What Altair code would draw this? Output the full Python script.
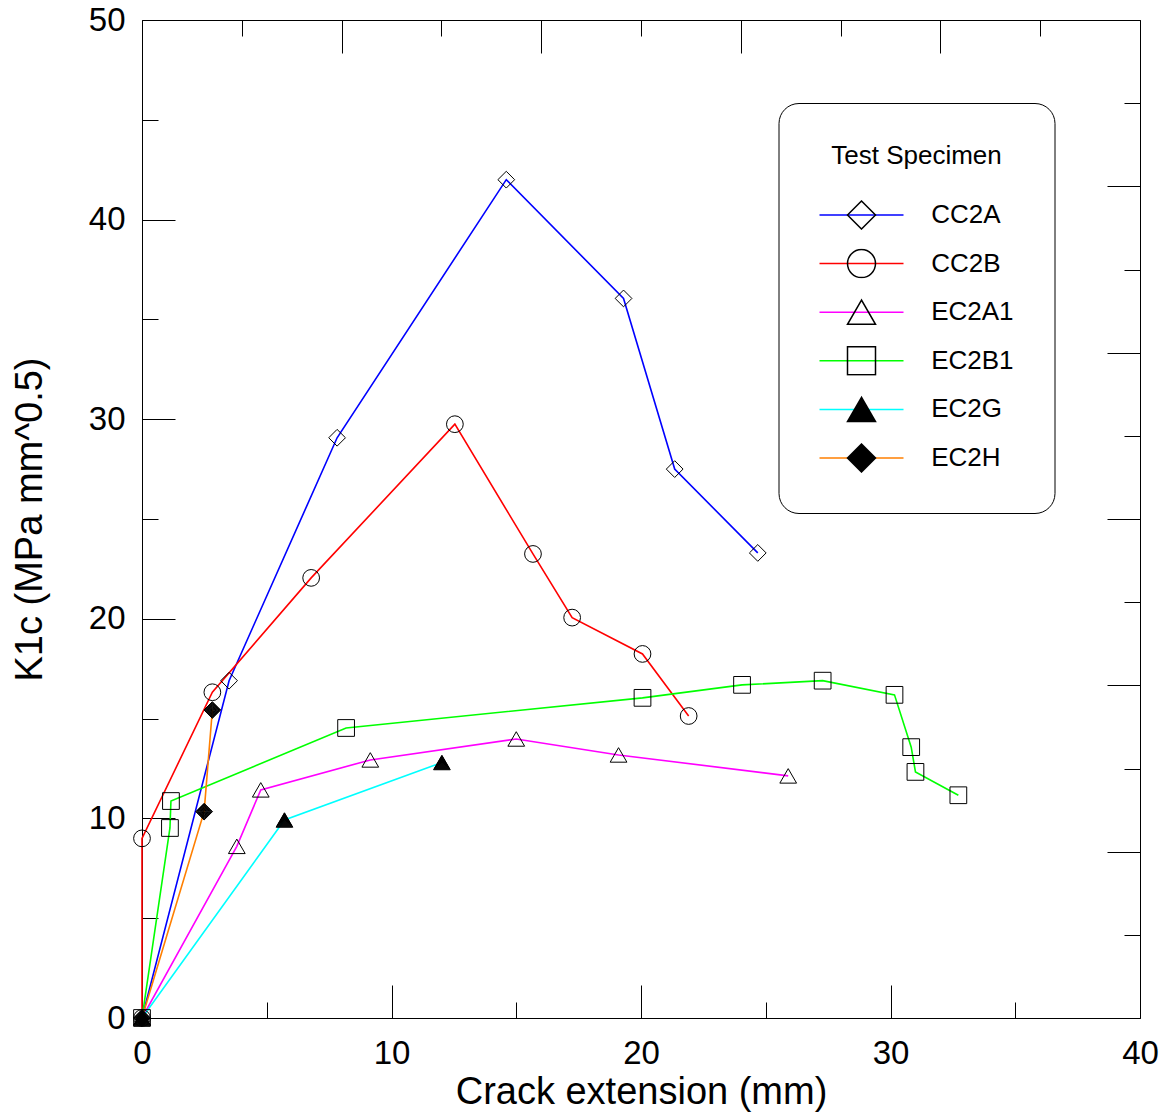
import altair as alt
import pandas as pd

series = ["CC2A", "CC2B", "EC2A1", "EC2B1", "EC2G", "EC2H"]
colors = ["#0000FF", "#FF0000", "#FF00FF", "#00FF00", "#00FFFF", "#FF7F00"]


def nested(points):
    # a solid-looking symbol made of nested outlines (stroked only, so it reads as filled)
    parts = []
    for k in [1.0 - 0.07 * j for j in range(15)]:
        pts = [(px * k, py * k) for px, py in points]
        parts.append("M" + "L".join(f"{a:.3f},{b:.3f}" for a, b in pts) + "Z")
    return "".join(parts)


filled_triangle = nested([(0, -0.866), (-1, 0.866), (1, 0.866)])
filled_diamond = nested([(-1, 0), (0, -1), (1, 0), (0, 1)])
shapes = ["diamond", "circle", "triangle-up", "square", filled_triangle, filled_diamond]

cc2a_x = [0, 3.49, 7.82, 14.6, 19.3, 21.35, 24.68]
cc2a_y = [0, 16.9, 29.07, 42.0, 36.05, 27.5, 23.3]

cc2b_x = [0, 0, 2.82, 6.78, 12.54, 15.67, 17.24, 20.06, 21.91]
cc2b_y = [0, 9.0, 16.32, 22.05, 29.75, 23.25, 20.06, 18.24, 15.13]

ec2a1_x = [0, 3.8, 4.76, 9.15, 15.0, 19.1, 25.9]
ec2a1_y = [0, 8.6, 11.43, 12.93, 13.98, 13.18, 12.13]

ec2b1_x = [0, 1.12, 1.16, 8.18, 20.06, 24.05, 27.28, 30.16, 30.83, 31.0, 32.72]
ec2b1_y = [0, 9.52, 10.87, 14.53, 16.04, 16.69, 16.9, 16.19, 13.57, 12.33, 11.16]

ec2g_x = [0, 5.71, 12.02]
ec2g_y = [0, 9.92, 12.8]

ec2h_x = [0, 2.49, 2.82]
ec2h_y = [0, 10.34, 15.43]

x_ticks = [0, 5, 10, 15, 20, 25, 30, 35, 40]
y_ticks = [0, 5, 10, 15, 20, 25, 30, 35, 40, 45, 50]
top_ticks = [0, 4, 8, 12, 16, 20, 24, 28, 32, 36, 40]
right_ticks = [k * 50 / 12 for k in range(13)]

all_x = [cc2a_x, cc2b_x, ec2a1_x, ec2b1_x, ec2g_x, ec2h_x]
all_y = [cc2a_y, cc2b_y, ec2a1_y, ec2b1_y, ec2g_y, ec2h_y]

# marker legend uses its own (invisible) labels so it is not merged with the line legend
marker_keys = [s + " " for s in series]

rows = []
for name, mk, xs_, ys_ in zip(series, marker_keys, all_x, all_y):
    for i, (xv, yv) in enumerate(zip(xs_, ys_)):
        rows.append({"s": name, "m": mk, "i": i, "x": xv, "y": yv})
df = pd.DataFrame(rows)

FONT = "Liberation Sans"

x_axis = alt.Axis(
    values=x_ticks,
    labelExpr="datum.value % 10 === 0 ? datum.label : ''",
    tickSize={"condition": {"test": "datum.value % 10 === 0", "value": -33}, "value": -16},
    labelPadding=52,
    labelFlush=False,
    labelOverlap=False,
    grid=False,
    title="Crack extension (mm)",
    titleX=499,
    titleY=85,
    titleBaseline="alphabetic",
    titleAlign="center",
)
y_axis = alt.Axis(
    values=y_ticks,
    labelExpr="datum.value % 10 === 0 ? datum.label : ''",
    tickSize={"condition": {"test": "datum.value % 10 === 0", "value": -33}, "value": -16},
    labelPadding=50,
    labelFlush=False,
    labelOverlap=False,
    grid=False,
    title="K1c (MPa mm^0.5)",
    titleAngle=270,
    titleX=-101,
    titleY=499,
    titleBaseline="alphabetic",
    titleAlign="center",
)
top_axis = alt.Axis(
    orient="top",
    values=top_ticks,
    labels=False,
    tickSize={"condition": {"test": "datum.value % 8 === 0", "value": -33}, "value": -16},
    grid=False,
    title=None,
)
right_axis = alt.Axis(
    orient="right",
    values=right_ticks,
    labels=False,
    tickSize={"condition": {"test": "round(datum.value * 12 / 50) % 2 === 0", "value": -33}, "value": -16},
    grid=False,
    title=None,
)

xs = alt.Scale(domain=[0, 40], nice=False, zero=False)
ys = alt.Scale(domain=[0, 50], nice=False, zero=False)

common_legend = dict(
    title="Test Specimen",
    orient="none",
    legendX=636.5,
    legendY=83,
    padding=40,
    symbolOffset=28,
    labelOffset=54.7,
    rowPadding=18.6,
    titlePadding=31,
    clipHeight=30,
    symbolSize=784,
    symbolStrokeWidth=1.5,
    symbolFillColor="transparent",
    labelFontSize=26,
    titleFontSize=26,
    labelFont=FONT,
    titleFont=FONT,
    titleFontWeight="normal",
    titleAnchor="middle",
)

legend_lines = alt.Legend(
    symbolType="M-3,0H3",
    fillColor="white",
    strokeColor="black",
    cornerRadius=20,
    labelColor="black",
    titleColor="black",
    **common_legend,
)
legend_marks = alt.Legend(
    symbolStrokeColor="black",
    labelColor="transparent",
    titleColor="transparent",
    **common_legend,
)

lines = alt.Chart(df).mark_line(strokeWidth=1.6).encode(
    x=alt.X("x:Q", scale=xs, axis=x_axis),
    y=alt.Y("y:Q", scale=ys, axis=y_axis),
    color=alt.Color("s:N", scale=alt.Scale(domain=series, range=colors), legend=legend_lines),
    order=alt.Order("i:Q"),
)

points = alt.Chart(df).mark_point(filled=False, stroke="black", strokeWidth=1, size=280, opacity=1).encode(
    x=alt.X("x:Q", scale=xs, axis=x_axis),
    y=alt.Y("y:Q", scale=ys, axis=y_axis),
    shape=alt.Shape("m:N", scale=alt.Scale(domain=marker_keys, range=shapes), legend=legend_marks),
)

ghost = alt.Chart(df).mark_point(opacity=0).encode(
    x=alt.X("x:Q", scale=xs, axis=top_axis),
    y=alt.Y("y:Q", scale=ys, axis=right_axis),
)

chart = (
    alt.layer(alt.layer(lines, points), ghost)
    .resolve_scale(x="independent", y="independent")
    .properties(
        width=998,
        height=998,
        autosize=alt.AutoSizeParams(type="none"),
        padding={"left": 142, "top": 20, "right": 30, "bottom": 98},
        background="white",
    )
    .configure_axis(
        labelFont=FONT,
        titleFont=FONT,
        labelFontSize=33,
        titleFontSize=38,
        titleFontWeight="normal",
        labelColor="black",
        titleColor="black",
        tickColor="black",
        domainColor="black",
        tickWidth=1,
        domainWidth=1,
    )
    .configure_view(stroke=None)
)

chart.save("out.html", embed_options={"renderer": "svg", "actions": False})
